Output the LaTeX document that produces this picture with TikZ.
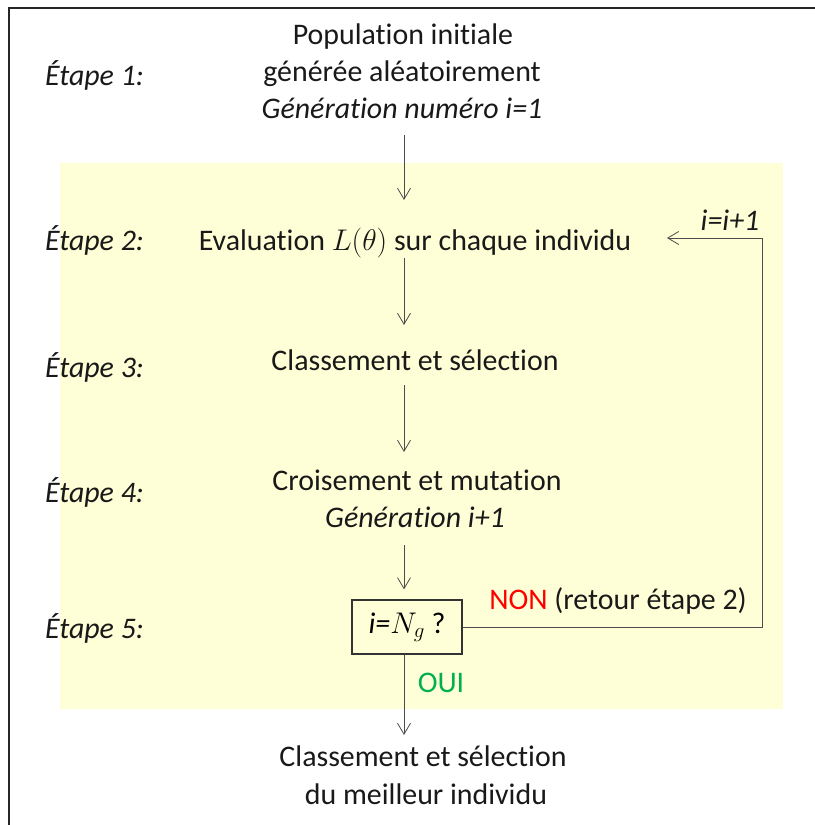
\RequirePackage{fix-cm}
\documentclass[tikz,border=0pt]{standalone}
\usepackage{fontspec}
\setmainfont{Carlito}[Ligatures={NoCommon,NoContextual,NoRare},Contextuals=NoAlternate]
\usetikzlibrary{arrows.meta}
\definecolor{bgyellow}{HTML}{FFFFD7}
\definecolor{noncol}{HTML}{FF0000}
\definecolor{ouicol}{HTML}{00B050}
\begin{document}
\begin{tikzpicture}[x=1bp,y=-1bp,
  txt/.style={inner sep=0pt, anchor=base, font=\fontsize{30}{36}\selectfont, text=black!90},
  itxt/.style={txt, font=\fontsize{30}{36}\selectfont\itshape},
  lbl/.style={itxt, anchor=base west},
  arr/.style={draw=black!70, line width=0.8bp, -{Straight Barb[length=11bp,width=13bp]}},
  frame/.style={draw=black!85, line width=2bp},
  decbox/.style={draw=black!80, line width=1.2bp, fill=bgyellow, minimum width=110bp, minimum height=54bp, inner sep=0pt, font=\fontsize{30}{36}\selectfont}
]
\useasboundingbox (0,0) rectangle (815,825);
% frame and background
\draw[frame] (9,826) -- (9,8) -- (816,8);
\fill[bgyellow] (60,163) rectangle (783,709);

% column for arrows
\coordinate (col) at (404,0);

% step labels
\node[lbl] (e1) at (45,85) {Étape 1:};
\node[lbl] (e2) at (45,250) {Étape 2:};
\node[lbl] (e3) at (45,377) {Étape 3:};
\node[lbl] (e4) at (45,502) {Étape 4:};
\node[lbl] (e5) at (45,638) {Étape 5:};

% main texts
\node[txt] (pop1) at (403,44) {Population initiale};
\node[txt] (pop2) at (402,81) {générée aléatoirement};
\node[itxt] (pop3) at (402,118) {Génération numéro i=1};
\node[txt] (eval) at (415,250) {Evaluation $L(\theta)$ sur chaque individu};
\node[txt] (class) at (415,370) {Classement et sélection};
\node[txt] (cross) at (417,490) {Croisement et mutation};
\node[itxt] (gen) at (415,527) {Génération i+1};
\node[decbox] (box) at (407,627) {\textit{i=}$N_g$ ?};
\node[txt] (fin1) at (423,766) {Classement et sélection};
\node[txt] (fin2) at (426,804) {du meilleur individu};

% side labels
\node[itxt] (incr) at (730,230) {i=i+1};
\node[txt] (non) at (618,609) {\textcolor{noncol}{NON} (retour étape 2)};
\node[txt, text=ouicol] (oui) at (441,692) {OUI};

% arrows
\draw[arr, shorten <=17bp, shorten >=50bp] (pop3.base -| col) -- (eval.base -| col);
\draw[arr, shorten <=8bp, shorten >=45bp] (eval.base -| col) -- (class.base -| col);
\draw[arr, shorten <=15bp, shorten >=38bp] (class.base -| col) -- (cross.base -| col);
\draw[arr, shorten <=18bp, shorten >=10bp] (gen.base -| col) -- (box.north -| col);
\draw[arr, shorten >=31bp] (box.south -| col) -- (fin1.base -| col);

% loop back
\coordinate (lc) at (762,238);
\coordinate (lt) at (667,238);
\draw[arr] (box.east) -| (lc) -- (lt);
\end{tikzpicture}
\end{document}
